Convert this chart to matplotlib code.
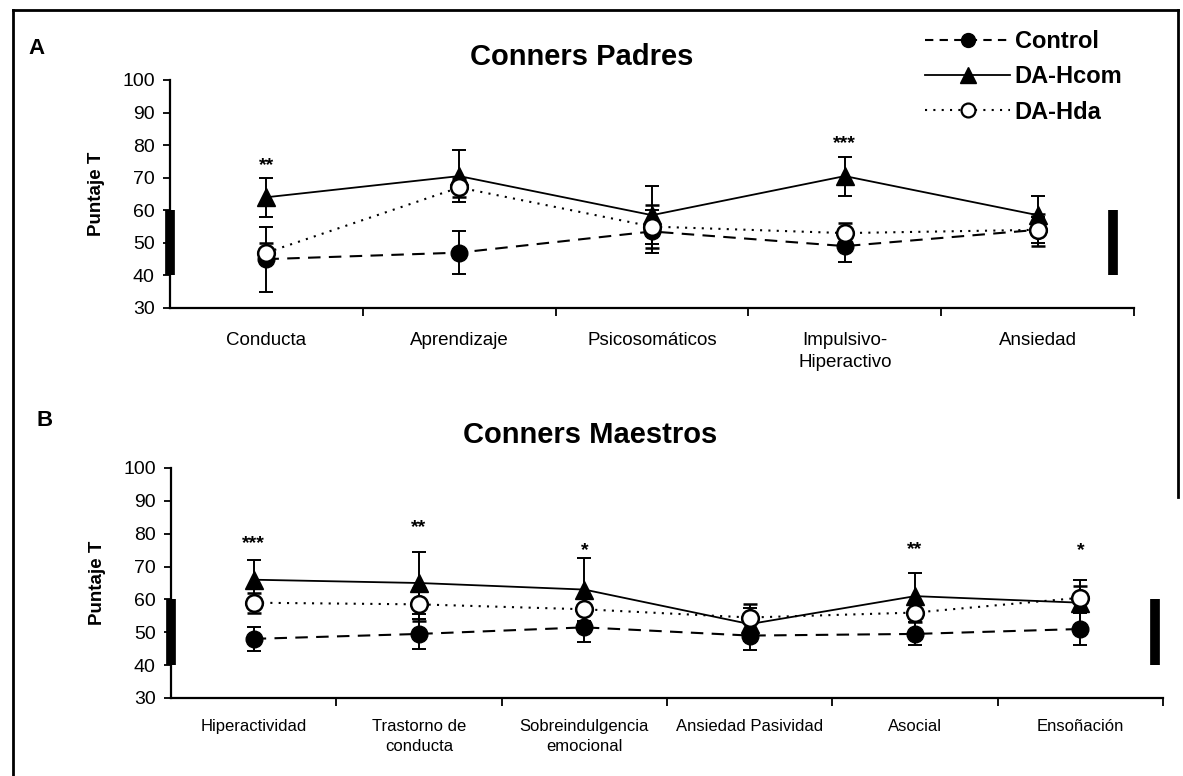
import matplotlib
matplotlib.use("Agg")
import matplotlib.pyplot as plt
from matplotlib.lines import Line2D

plt.rcParams['font.family'] = ['Liberation Sans', 'DejaVu Sans']

# ---- Conners Padres (parents' rating) ----
padres_cats = ["Conducta", "Aprendizaje", "Psicosomáticos",
               "Impulsivo-\nHiperactivo", "Ansiedad"]
padres_control = [45, 47, 53.5, 49, 54]
padres_control_err = [10, 6.5, 6.5, 5, 4]
padres_hcom = [64, 70.5, 58.5, 70.5, 58.5]
padres_hcom_err = [6, 8, 9, 6, 6]
padres_hda = [47, 67, 55, 53, 54]
padres_hda_err = [3, 3, 6.5, 3, 5]
padres_sig = ["**", "", "", "***", ""]

# ---- Conners Maestros (teachers' rating) ----
maestros_cats = ["Hiperactividad", "Trastorno de\nconducta",
                 "Sobreindulgencia\nemocional", "Ansiedad Pasividad",
                 "Asocial", "Ensoñación"]
maestros_control = [48, 49.5, 51.5, 49, 49.5, 51]
maestros_control_err = [3.7, 4.5, 4.5, 4.5, 3.5, 5]
maestros_hcom = [66, 65, 63, 52.5, 61, 59]
maestros_hcom_err = [6, 9.5, 9.5, 5, 7, 7]
maestros_hda = [59, 58.5, 57, 54.5, 56, 60.5]
maestros_hda_err = [3, 5, 4, 4, 3, 3.5]
maestros_sig = ["***", "**", "*", "", "**", "*"]

# normal range of T scores
normal_range = (40, 60)

group_names = ["Control", "DA-Hcom", "DA-Hda"]

fig = plt.figure(figsize=(11.83, 7.76), dpi=100)
W, H = 1183, 776


def px_axes(left, top, right, bottom):
    return fig.add_axes([left / W, 1 - bottom / H, (right - left) / W, (bottom - top) / H])


def draw_panel(ax, cats, control, control_err, hcom, hcom_err, hda, hda_err,
               sig, star_y, right_bar_x, label_size, label_pad):
    n = len(cats)
    x = list(range(n))
    eb = dict(ecolor="black", elinewidth=1.4, capsize=5, capthick=1.4)
    h_ctrl = ax.errorbar(x, control, yerr=control_err, color="black", lw=1.5,
                         ls=(0, (6, 4)), marker="o", ms=12, mfc="black",
                         mec="black", zorder=3, **eb)
    h_hcom = ax.errorbar(x, hcom, yerr=hcom_err, color="black", lw=1.3,
                         ls="-", marker="^", ms=13, mfc="black", mec="black",
                         zorder=4, **eb)
    h_hda = ax.errorbar(x, hda, yerr=hda_err, color="black", lw=1.5,
                        ls=(0, (1, 3)), marker="o", ms=12, mfc="white",
                        mec="black", mew=1.8, zorder=5, **eb)
    for xi, s, y in zip(x, sig, star_y):
        if s:
            ax.text(xi, y, s, ha="center", va="center", fontsize=14,
                    fontweight="bold")
    ax.set_xlim(-0.5, n - 0.5)
    ax.set_ylim(30, 100)
    ax.set_yticks(range(30, 101, 10))
    ax.set_xticks(x)
    ax.set_xticklabels(cats, fontsize=label_size, va="top", linespacing=1.45)
    ax.set_xticks([k + 0.5 for k in range(n)], minor=True)
    ax.tick_params(axis="x", which="major", length=0, pad=label_pad)
    ax.tick_params(axis="x", which="minor", length=6, width=1.3, direction="out")
    ax.tick_params(axis="y", length=5, width=1.3, direction="out",
                   labelsize=14, pad=6)
    for side in ("top", "right"):
        ax.spines[side].set_visible(False)
    for side in ("left", "bottom"):
        ax.spines[side].set_linewidth(1.6)
    ax.set_ylabel("Puntaje T", fontsize=13.5, fontweight="bold", labelpad=12)
    # thick bars marking the normal T-score range
    ax.vlines([-0.5, right_bar_x], normal_range[0], normal_range[1],
              color="black", lw=7, clip_on=False, zorder=6)
    return h_ctrl, h_hcom, h_hda


ax_a = px_axes(170, 80, 1134, 308)
draw_panel(ax_a, padres_cats, padres_control, padres_control_err,
           padres_hcom, padres_hcom_err, padres_hda, padres_hda_err,
           padres_sig, [73.7, 0, 0, 80.5, 0], 4.39, 13.5, 17)

ax_b = px_axes(171, 468, 1163, 698)
draw_panel(ax_b, maestros_cats, maestros_control, maestros_control_err,
           maestros_hcom, maestros_hcom_err, maestros_hda, maestros_hda_err,
           maestros_sig, [77, 82, 75, 0, 75.3, 75], 5.45, 12, 15)

# panel titles
fig.text(582 / W, 1 - 57 / H, "Conners Padres", fontsize=21,
         fontweight="bold", ha="center", va="center")
fig.text(590 / W, 1 - 435 / H, "Conners Maestros", fontsize=21,
         fontweight="bold", ha="center", va="center")

# panel letters
fig.text(28 / W, 1 - 48 / H, "A", fontsize=16, fontweight="bold", va="center")
fig.text(36 / W, 1 - 420 / H, "B", fontsize=16, fontweight="bold", va="center")

# legend
leg_handles = [
    Line2D([], [], color="black", lw=1.5, ls=(0, (4, 3)), marker="o", ms=10,
           mfc="black", mec="black"),
    Line2D([], [], color="black", lw=1.3, ls="-", marker="^", ms=11,
           mfc="black", mec="black"),
    Line2D([], [], color="black", lw=1.5, ls=(0, (1, 3)), marker="o", ms=10,
           mfc="white", mec="black", mew=1.6),
]
fig.legend(leg_handles, group_names, loc="upper left",
           bbox_to_anchor=(925 / W, 1 - 30 / H), frameon=False,
           prop=dict(size=17, weight="bold"), handlelength=3.6,
           handletextpad=0.2, labelspacing=0.52, borderaxespad=0,
           borderpad=0)

# outer frame
for xs, ys in [((13, 13), (10, 776)), ((13, 1178), (10, 10)),
               ((1178, 1178), (10, 497))]:
    fig.add_artist(Line2D([v / W for v in xs], [1 - v / H for v in ys],
                          color="black", lw=2, transform=fig.transFigure))

fig.savefig("out.png", dpi=100, facecolor="white")
